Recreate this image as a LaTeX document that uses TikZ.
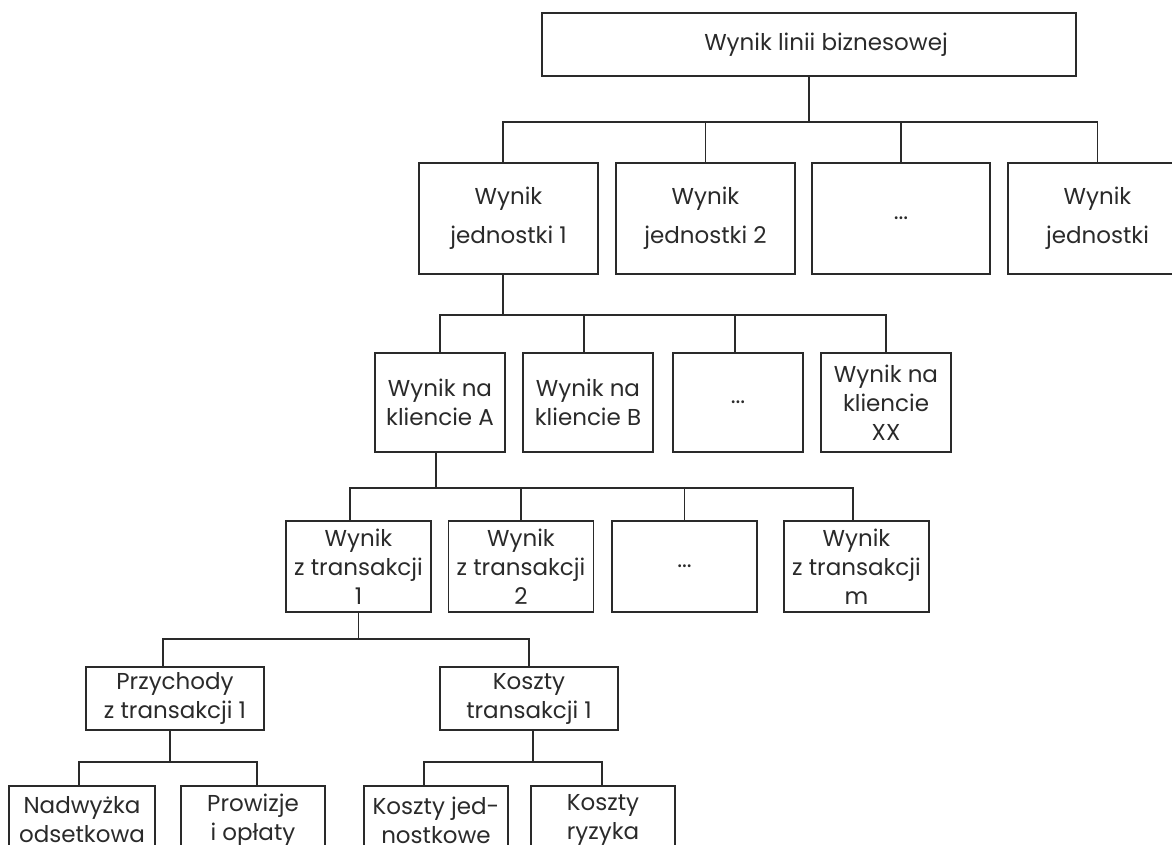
\documentclass[tikz,border=0pt]{standalone}
\usepackage{fontspec}
\setmainfont{Poppins}
\definecolor{ink}{HTML}{2A2A2A}
\begin{document}
\begin{tikzpicture}[x=1pt,y=-1pt,
  box/.style={draw=ink, line width=1.3pt, inner sep=0pt, align=center, text=ink,
              font=\fontsize{23}{29}\selectfont},
  wide/.style={font=\fontsize{23}{39}\selectfont},
  link/.style={draw=ink, line width=1.3pt}]
\clip (0,0) rectangle (1172,845);

% bar levels
\coordinate (b1) at (0,122);
\coordinate (b2) at (0,315);
\coordinate (b3) at (0,488);
\coordinate (b4) at (0,639);
\coordinate (b5) at (0,762);

% root
\node[box, minimum width=534pt, minimum height=63pt] (top) at (809,44.5) {\hspace*{34pt}Wynik linii biznesowej};

% units
\node[box, wide, minimum width=179pt, minimum height=111pt] (u1) at (508.5,218.5) {Wynik\\jednostki 1};
\node[box, wide, minimum width=179pt, minimum height=111pt] (u2) at (705.5,218.5) {Wynik\\jednostki 2};
\node[box, wide, minimum width=178pt, minimum height=111pt] (u3) at (901,218.5) {...};
\node[box, wide, minimum width=179pt, minimum height=111pt] (u4) at (1097.5,218.5) {Wynik\\jednostki};

% clients
\node[box, minimum width=130pt, minimum height=99pt] (ca) at (440,402.5) {Wynik na\\kliencie A};
\node[box, minimum width=130pt, minimum height=99pt] (cb) at (588,402.5) {Wynik na\\kliencie B};
\node[box, minimum width=130pt, minimum height=99pt] (cd) at (738,402.5) {...};
\node[box, minimum width=130pt, minimum height=99pt] (cx) at (886,402.5) {Wynik na\\kliencie\\XX};

% transactions
\node[box, minimum width=145pt, minimum height=91pt] (t1) at (358.5,566.5) {Wynik\\z transakcji\\1};
\node[box, minimum width=145pt, minimum height=91pt] (t2) at (521,566.5) {Wynik\\z transakcji\\2};
\node[box, minimum width=145pt, minimum height=91pt] (td) at (684.5,566.5) {...};
\node[box, minimum width=145pt, minimum height=91pt] (tm) at (856.5,566.5) {Wynik\\z transakcji\\m};

% revenues and costs
\node[box, minimum width=178pt, minimum height=63pt] (rev) at (175,698.5) {Przychody\\z transakcji 1};
\node[box, minimum width=178pt, minimum height=63pt] (cost) at (529,698.5) {Koszty\\transakcji 1};

% components (their lower part runs past the page edge)
\node[box, minimum width=146pt, minimum height=68pt] (nim) at (82,820) {Nadwyżka\\odsetkowa};
\node[box, minimum width=144pt, minimum height=68pt] (fee) at (253,820) {Prowizje\\i opłaty};
\node[box, minimum width=144pt, minimum height=68pt] (unit) at (436,820) {Koszty jed-\\nostkowe};
\node[box, minimum width=144pt, minimum height=68pt] (risk) at (603,820) {Koszty\\ryzyka};

% connector attachment points
\coordinate (u1in)   at ([xshift=-5.5pt]u1.north);
\coordinate (u1out)  at ([xshift=-5.5pt]u1.south);
\coordinate (cbin)   at ([xshift=-4pt]cb.north);
\coordinate (cdin)   at ([xshift=-3pt]cd.north);
\coordinate (caout)  at ([xshift=-4pt]ca.south);
\coordinate (t1in)   at ([xshift=-8.5pt]t1.north);
\coordinate (tmin)   at ([xshift=-3.5pt]tm.north);
\coordinate (revin)  at ([xshift=-12pt]rev.north);
\coordinate (revout) at ([xshift=-5pt]rev.south);
\coordinate (costout) at ([xshift=4pt]cost.south);
\coordinate (nimin)  at ([xshift=-3pt]nim.north);
\coordinate (feein)  at ([xshift=4pt]fee.north);
\coordinate (unitin) at ([xshift=-12pt]unit.north);
\coordinate (riskin) at ([xshift=-1pt]risk.north);

% root -> units
\draw[link] (top.south) -- (top.south |- b1);
\draw[link] (u1in) |- (b1 -| u4.north) -- (u4.north);
\draw[link] (u2.north) -- (u2.north |- b1);
\draw[link] (u3.north) -- (u3.north |- b1);

% unit 1 -> clients
\draw[link] (u1out) -- (u1out |- b2);
\draw[link] (ca.north) |- (b2 -| cx.north) -- (cx.north);
\draw[link] (cbin) -- (cbin |- b2);
\draw[link] (cdin) -- (cdin |- b2);

% client A -> transactions
\draw[link] (caout) -- (caout |- b3);
\draw[link] (t1in) |- (b3 -| tmin) -- (tmin);
\draw[link] (t2.north) -- (t2.north |- b3);
\draw[link] (td.north) -- (td.north |- b3);

% transaction 1 -> revenues, costs
\draw[link] (t1.south) -- (t1.south |- b4);
\draw[link] (revin) |- (b4 -| cost.north) -- (cost.north);

% revenues -> components
\draw[link] (revout) -- (revout |- b5);
\draw[link] (nimin) |- (b5 -| feein) -- (feein);

% costs -> components
\draw[link] (costout) -- (costout |- b5);
\draw[link] (unitin) |- (b5 -| riskin) -- (riskin);
\end{tikzpicture}
\end{document}
